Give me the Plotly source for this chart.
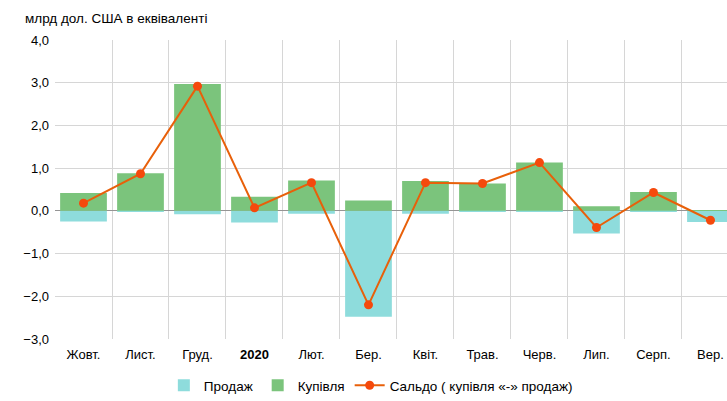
import plotly.graph_objects as go

# Дані (млрд дол. США в еквіваленті)
months = ['Жовт.', 'Лист.', 'Груд.', '<b>2020</b>', 'Лют.', 'Бер.', 'Квіт.', 'Трав.',
          'Черв.', 'Лип.', 'Серп.', 'Вер.']
prodazh = [-0.25, -0.01, -0.08, -0.27, -0.07, -2.48, -0.07, -0.01, -0.01, -0.53, -0.01, -0.26]
kupivlia = [0.42, 0.88, 2.97, 0.33, 0.71, 0.24, 0.70, 0.64, 1.13, 0.11, 0.44, 0.02]
saldo = [0.18, 0.87, 2.92, 0.07, 0.66, -2.20, 0.66, 0.64, 1.13, -0.39, 0.43, -0.22]

fig = go.Figure()

fig.add_trace(go.Bar(x=months, y=prodazh, name='Продаж', marker=dict(color='#8edcdc', line=dict(width=0)),
                     width=0.82))
fig.add_trace(go.Bar(x=months, y=kupivlia, name='Купівля', marker=dict(color='#7bc47c', line=dict(width=0)),
                     width=0.82))
fig.add_trace(go.Scatter(x=months, y=saldo, name='Сальдо ( купівля «-» продаж)', mode='lines+markers',
                         line=dict(color='#e8600a', width=2),
                         marker=dict(color='#f5490c', size=9)))

fig.update_layout(
    width=727, height=401,
    margin=dict(l=55, r=0, t=40, b=59),
    title=dict(text='млрд дол. США в еквіваленті', xref='container', yref='container',
               x=25 / 727, xanchor='left', y=1 - 18 / 401, yanchor='middle',
               font=dict(size=13.5, color='#000000')),
    barmode='overlay',
    separators=', ',
    plot_bgcolor='white',
    paper_bgcolor='white',
    font=dict(family='Liberation Sans, Arial, sans-serif', size=13, color='#000000'),
    legend=dict(orientation='h', x=0.47, xanchor='center', y=-0.105, yanchor='top',
                font=dict(size=13.5), itemwidth=30),
    xaxis=dict(type='category', range=[-0.5, 11.29], tickson='boundaries', showgrid=True,
               gridcolor='#d6d6d6', gridwidth=1, ticks='', showline=False, zeroline=False,
               automargin=False, ticklabelstandoff=6),
    yaxis=dict(range=[-3, 4], dtick=1, tickformat='.1f', showgrid=True, gridcolor='#d6d6d6',
               zeroline=True, zerolinecolor='#959595', zerolinewidth=1, ticks='',
               automargin=False, ticklabelstandoff=5),
)

# прибрати відступ сторінки, щоб графік стояв у кутку вікна
fig.write_html('out.html', config={'displayModeBar': False},
               post_script="document.body.style.margin='0';")
